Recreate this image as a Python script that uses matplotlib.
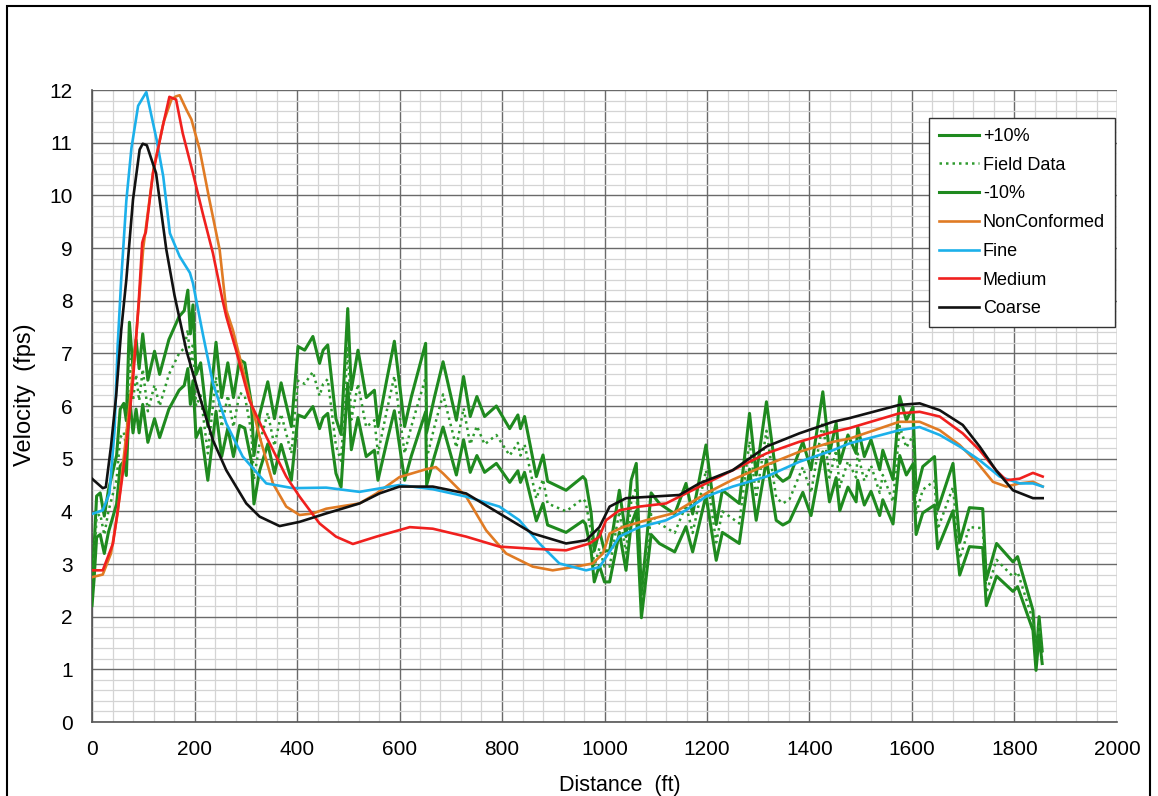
import matplotlib
matplotlib.use("Agg")
import matplotlib.pyplot as plt
from matplotlib.ticker import MultipleLocator
from matplotlib.patches import Rectangle

plt.rcParams['font.family'] = ['Liberation Sans', 'DejaVu Sans']

# ---------------- data ----------------
field_x = [0, 4, 9, 16, 24, 32, 40, 48, 55, 62, 67, 73, 80, 86, 92, 99, 109, 122, 132, 150,
           170, 180, 187, 192, 197, 203, 212, 226, 242, 253, 265, 276, 288, 298, 311, 316, 327, 343, 356, 369,
           389, 402, 415, 431, 444, 451, 460, 476, 486, 499, 506, 519, 535, 551, 558, 575, 590, 610, 623, 651,
           653, 668, 685, 711, 725, 738, 751, 766, 789, 815, 831, 836, 844, 867, 880, 889, 925, 958, 963, 974,
           980, 990, 1000, 1010, 1020, 1029, 1042, 1052, 1062, 1072, 1091, 1107, 1137, 1159, 1172, 1198, 1218, 1230, 1263, 1283,
           1296, 1316, 1335, 1348, 1361, 1387, 1403, 1426, 1439, 1452, 1459, 1475, 1491, 1494, 1507, 1520, 1537, 1543, 1563, 1576,
           1589, 1602, 1608, 1621, 1644, 1650, 1680, 1693, 1712, 1738, 1745, 1765, 1797, 1806, 1836, 1842, 1848, 1854]
field_y = [2.45, 3.0, 3.9, 3.95, 3.55, 4.0, 4.3, 4.6, 5.4, 5.5, 5.2, 6.9, 6.1, 6.6, 6.1, 6.7, 5.9, 6.4, 6.0, 6.6,
           7.0, 7.1, 7.45, 6.7, 7.2, 6.0, 6.2, 5.1, 6.55, 5.6, 6.2, 5.6, 6.25, 6.2, 5.5, 4.6, 5.3, 5.87, 5.24, 5.85,
           5.1, 6.48, 6.42, 6.65, 6.19, 6.42, 6.51, 5.24, 4.96, 7.14, 5.74, 6.42, 5.6, 5.73, 5.1, 5.9, 6.57, 5.1, 5.61, 6.54,
           5.0, 5.6, 6.22, 5.21, 5.96, 5.27, 5.62, 5.27, 5.45, 5.06, 5.3, 5.06, 5.27, 4.24, 4.61, 4.15, 4.0, 4.24, 4.18, 3.6,
           2.95, 3.3, 2.95, 2.95, 3.5, 4.0, 3.2, 4.17, 4.46, 2.2, 3.95, 3.77, 3.59, 4.12, 3.59, 4.78, 3.41, 4.0, 3.77, 5.33,
           4.26, 5.53, 4.26, 4.15, 4.23, 4.84, 4.35, 5.7, 4.64, 5.16, 4.46, 4.95, 4.64, 5.1, 4.58, 4.87, 4.35, 4.69, 4.18, 5.62,
           5.21, 5.44, 3.95, 4.41, 4.58, 3.66, 4.46, 3.1, 3.7, 3.68, 2.45, 3.08, 2.76, 2.85, 1.93, 1.09, 1.82, 1.23]
plus10_y = [2.70, 3.30, 4.29, 4.35, 3.91, 4.40, 4.73, 5.06, 5.94, 6.05, 5.72, 7.59, 6.71, 7.26, 6.71, 7.37, 6.49, 7.04, 6.60, 7.26,
            7.70, 7.81, 8.20, 7.37, 7.92, 6.60, 6.82, 5.61, 7.21, 6.16, 6.82, 6.16, 6.88, 6.82, 6.05, 5.06, 5.83, 6.46, 5.76, 6.44,
            5.61, 7.13, 7.06, 7.32, 6.81, 7.06, 7.16, 5.76, 5.46, 7.85, 6.31, 7.06, 6.16, 6.30, 5.61, 6.49, 7.23, 5.61, 6.17, 7.19,
            5.50, 6.16, 6.84, 5.73, 6.56, 5.80, 6.18, 5.80, 6.00, 5.57, 5.83, 5.57, 5.80, 4.66, 5.07, 4.57, 4.40, 4.66, 4.60, 3.96,
            3.25, 3.63, 3.25, 3.25, 3.85, 4.40, 3.52, 4.59, 4.91, 2.42, 4.35, 4.15, 3.95, 4.53, 3.95, 5.26, 3.75, 4.40, 4.15, 5.86,
            4.69, 6.08, 4.69, 4.57, 4.65, 5.32, 4.79, 6.27, 5.10, 5.68, 4.91, 5.45, 5.10, 5.61, 5.04, 5.36, 4.79, 5.16, 4.60, 6.18,
            5.73, 5.98, 4.35, 4.85, 5.04, 4.03, 4.91, 3.41, 4.07, 4.05, 2.70, 3.39, 3.04, 3.14, 2.12, 1.20, 2.00, 1.35]
minus10_y = [2.21, 2.70, 3.51, 3.56, 3.20, 3.60, 3.87, 4.14, 4.86, 4.95, 4.68, 6.21, 5.49, 5.94, 5.49, 6.03, 5.31, 5.76, 5.40, 5.94,
             6.30, 6.39, 6.71, 6.03, 6.48, 5.40, 5.58, 4.59, 5.90, 5.04, 5.58, 5.04, 5.63, 5.58, 4.95, 4.14, 4.77, 5.28, 4.72, 5.27,
             4.59, 5.83, 5.78, 5.99, 5.57, 5.78, 5.86, 4.72, 4.46, 6.43, 5.17, 5.78, 5.04, 5.16, 4.59, 5.31, 5.91, 4.59, 5.05, 5.89,
             4.50, 5.04, 5.60, 4.69, 5.36, 4.74, 5.06, 4.74, 4.91, 4.55, 4.77, 4.55, 4.74, 3.82, 4.15, 3.74, 3.60, 3.82, 3.76, 3.24,
             2.66, 2.97, 2.66, 2.66, 3.15, 3.60, 2.88, 3.75, 4.01, 1.98, 3.56, 3.39, 3.23, 3.71, 3.23, 4.30, 3.07, 3.60, 3.39, 4.80,
             3.83, 4.98, 3.83, 3.74, 3.81, 4.36, 3.92, 5.13, 4.18, 4.64, 4.01, 4.46, 4.18, 4.59, 4.12, 4.38, 3.92, 4.22, 3.76, 5.06,
             4.69, 4.90, 3.56, 3.97, 4.12, 3.29, 4.01, 2.79, 3.33, 3.31, 2.21, 2.77, 2.48, 2.57, 1.74, 0.98, 1.64, 1.11]

nonconf_x = [0, 21, 37, 50, 60, 73, 86, 100, 120, 140, 155, 164, 171, 184, 194, 210, 229, 249, 262, 275,
             301, 327, 353, 379, 405, 431, 457, 522, 555, 600, 652, 671, 685, 730, 769, 808, 860, 899, 944, 977,
             997, 1010, 1036, 1081, 1133, 1166, 1198, 1250, 1316, 1380, 1446, 1478, 1575, 1615, 1654, 1693, 1726, 1758, 1784, 1810,
             1836, 1855]
nonconf_y = [2.75, 2.8, 3.2, 3.96, 4.85, 6.0, 7.3, 9.0, 10.5, 11.4, 11.82, 11.88, 11.9, 11.63, 11.44, 10.87, 9.92, 8.97, 7.82, 7.44,
             6.43, 5.42, 4.53, 4.09, 3.93, 3.96, 4.05, 4.15, 4.34, 4.65, 4.8, 4.84, 4.72, 4.28, 3.64, 3.2, 2.95, 2.88, 2.95, 3.01,
             3.2, 3.58, 3.7, 3.83, 3.96, 4.15, 4.34, 4.6, 4.88, 5.13, 5.32, 5.38, 5.7, 5.7, 5.54, 5.26, 4.94, 4.56, 4.47, 4.53,
             4.56, 4.47]

fine_x = [0, 21, 34, 44, 50, 57, 67, 77, 90, 106, 126, 139, 152, 171, 191, 197, 216, 236, 262, 294,
          340, 392, 457, 522, 600, 665, 730, 795, 834, 873, 912, 964, 990, 1003, 1029, 1068, 1120, 1159, 1198, 1250,
          1316, 1380, 1446, 1478, 1575, 1615, 1654, 1693, 1732, 1771, 1810, 1836, 1855]
fine_y = [3.95, 4.02, 4.34, 5.54, 7.13, 8.4, 9.9, 10.9, 11.7, 11.96, 11.06, 10.36, 9.28, 8.84, 8.53, 8.33, 7.38, 6.43, 5.67, 5.04,
          4.53, 4.44, 4.45, 4.37, 4.5, 4.42, 4.28, 4.09, 3.83, 3.39, 3.01, 2.88, 2.94, 3.13, 3.52, 3.7, 3.83, 4.02, 4.28, 4.47,
          4.66, 4.94, 5.16, 5.29, 5.54, 5.6, 5.45, 5.23, 4.97, 4.66, 4.53, 4.53, 4.47]

medium_x = [0, 21, 41, 54, 67, 80, 91, 98, 101, 105, 119, 138, 151, 164, 177, 197, 216, 236, 255, 262,
            281, 307, 340, 379, 405, 444, 476, 509, 555, 620, 665, 730, 795, 860, 925, 971, 990, 1003, 1029, 1068,
            1120, 1159, 1198, 1250, 1316, 1380, 1446, 1478, 1575, 1615, 1654, 1699, 1732, 1764, 1784, 1810, 1836, 1855]
medium_y = [2.88, 2.88, 3.39, 4.28, 5.23, 6.49, 7.95, 9.1, 9.2, 9.3, 10.42, 11.31, 11.87, 11.82, 11.18, 10.42, 9.66, 8.9, 8.0, 7.7,
            7.06, 6.11, 5.42, 4.66, 4.28, 3.77, 3.52, 3.38, 3.52, 3.7, 3.67, 3.52, 3.33, 3.29, 3.26, 3.39, 3.52, 3.83, 4.02, 4.09,
            4.15, 4.34, 4.53, 4.78, 5.1, 5.32, 5.51, 5.58, 5.86, 5.89, 5.8, 5.48, 5.16, 4.78, 4.59, 4.62, 4.73, 4.66]

coarse_x = [0, 21, 27, 37, 47, 57, 67, 80, 93, 99, 107, 125, 145, 161, 184, 210, 236, 262, 301, 327,
            366, 405, 457, 522, 561, 600, 665, 730, 795, 860, 925, 964, 990, 1010, 1042, 1094, 1146, 1185, 1250, 1316,
            1380, 1446, 1478, 1575, 1615, 1654, 1699, 1732, 1764, 1797, 1836, 1855]
coarse_y = [4.62, 4.44, 4.46, 5.23, 6.18, 7.44, 8.4, 9.92, 10.87, 10.98, 10.95, 10.42, 8.97, 8.1, 7.06, 6.18, 5.35, 4.78, 4.15, 3.9,
            3.72, 3.8, 3.96, 4.15, 4.34, 4.47, 4.47, 4.34, 3.96, 3.58, 3.39, 3.45, 3.7, 4.09, 4.25, 4.28, 4.31, 4.53, 4.78, 5.23,
            5.48, 5.7, 5.77, 6.02, 6.05, 5.92, 5.64, 5.23, 4.78, 4.4, 4.25, 4.25]

x_ticks = [0, 200, 400, 600, 800, 1000, 1200, 1400, 1600, 1800, 2000]
y_ticks = [0, 1, 2, 3, 4, 5, 6, 7, 8, 9, 10, 11, 12]

# ---------------- figure ----------------
W, H = 1158, 796
fig = plt.figure(figsize=(W / 100, H / 100), dpi=100)
fig.patch.set_facecolor('white')
fig.patches.append(Rectangle((7 / W, -0.02), (1150 - 7) / W, (796 - 6) / H + 0.02,
                             transform=fig.transFigure, fill=False, edgecolor='black', linewidth=1.5))

ax = fig.add_axes([92 / W, 74 / H, 1025 / W, 632 / H])

GREEN = '#1f8a1f'
ax.plot(field_x, plus10_y, color=GREEN, lw=2.2, label='+10%', zorder=3)
ax.plot(field_x, field_y, color='#2e9a2e', lw=1.8, ls=(0, (1, 1.6)), label='Field Data', zorder=3)
ax.plot(field_x, minus10_y, color=GREEN, lw=2.2, label='-10%', zorder=3)
ax.plot(nonconf_x, nonconf_y, color='#e07b24', lw=1.9, label='NonConformed', zorder=4)
ax.plot(fine_x, fine_y, color='#1cb0ea', lw=1.9, label='Fine', zorder=4)
ax.plot(medium_x, medium_y, color='#f0201e', lw=1.9, label='Medium', zorder=4)
ax.plot(coarse_x, coarse_y, color='#111111', lw=1.9, label='Coarse', zorder=4)

ax.set_xlim(0, 2000)
ax.set_ylim(0, 12)
ax.set_xticks(x_ticks)
ax.set_yticks(y_ticks)
ax.xaxis.set_minor_locator(MultipleLocator(40))
ax.yaxis.set_minor_locator(MultipleLocator(0.2))
ax.grid(which='minor', color='#d4d4d4', lw=0.9, zorder=0)
ax.grid(which='major', color='#6a6a6a', lw=1.0, zorder=1)
ax.set_axisbelow(True)
ax.tick_params(which='both', length=0, labelsize=15, colors='black')
ax.tick_params(axis='x', pad=13)
ax.tick_params(axis='y', pad=14)
for s in ['top', 'right']:
    ax.spines[s].set_visible(False)
for s in ['left', 'bottom']:
    ax.spines[s].set_color('#555555')
    ax.spines[s].set_linewidth(1.2)

fig.text(620 / W, 1 - 785 / H, 'Distance  (ft)', ha='center', va='center', fontsize=15.5)
fig.text(25 / W, 1 - 395 / H, 'Velocity  (fps)', ha='center', va='center', fontsize=17, rotation=90)

leg = ax.legend(loc='upper right', bbox_to_anchor=((1115 - 92) / 1025, (722 - 118) / 632),
                fontsize=13, frameon=True, fancybox=False, edgecolor='#333333', framealpha=1,
                handlelength=2.2, handletextpad=0.22, labelspacing=0.65,
                borderpad=0.55, borderaxespad=0)
leg.get_frame().set_linewidth(1.0)

fig.savefig('out.png', dpi=100)
